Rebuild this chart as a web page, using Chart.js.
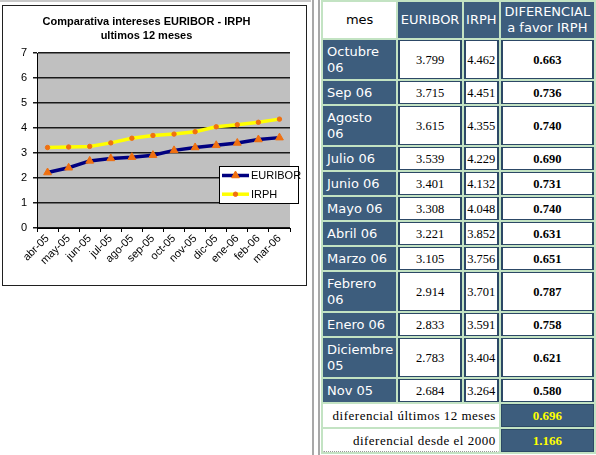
<!DOCTYPE html>
<html>
<head>
<meta charset="utf-8">
<script src="https://cdn.jsdelivr.net/npm/chart.js@4/dist/chart.umd.min.js"></script>
<style>
  html, body { margin: 0; padding: 0; background: #fff; width: 596px; height: 455px; overflow: hidden; position: relative; }
  #topline { position: absolute; left: 0; top: 0; width: 311px; height: 2px; background: #c8c8c8; }
  #chartBox { position: absolute; left: 2px; top: 5px; width: 305px; height: 281px; border: 1px solid #202020; box-sizing: border-box; background: #fff; }
  #chartBox canvas { display: block; }
  .vline { position: absolute; top: 0; width: 2px; height: 455px; background: #a8a8a8; }
  #tabla { position: absolute; left: 321px; top: 0; border-collapse: separate; border-spacing: 2px; background: #c3e3c3; table-layout: fixed; }
  #tabla td, #tabla th { box-sizing: border-box; overflow: hidden; white-space: nowrap; }
  #tabla th { font: normal 13px/16px "DejaVu Sans", sans-serif; color: #fff; background: #3d5d7d; padding: 1px; border: 1px solid #3d5d7d; text-align: center; }
  #tabla th.mes { background: #fff; color: #000; border-color: #fff; }
  #tabla td.m { font: 13px/16px "DejaVu Sans", sans-serif; color: #fff; background: #3d5d7d; padding: 3px 2px 2px 3px; border: 1px solid #3d5d7d; text-align: left; }
  #tabla td.n { font: 12.5px/16px "Liberation Serif", serif; background: #fff; color: #000; text-align: center; padding: 3px 1px 2px; border: 1px solid #2c4866; border-left-width: 2px; border-right-width: 2px; }
  #tabla td.d { font-weight: bold; }
  #tabla td.lbl { font: 13px/16px "Liberation Serif", serif; letter-spacing: 0.5px; text-align: right; background: #fff; border: 1px solid #fff; padding: 3px 2px 2px; }
  #tabla td.tot { font: bold 13px/16px "Liberation Serif", serif; color: #ffff00; background: #3d5d7d; text-align: center; border: 1px solid #2c4866; padding: 3px 1px 2px; }
  #tabla tr:last-child td.lbl { border-bottom: 1px dotted #999; }
</style>
</head>
<body>
<div id="topline"></div>
<div id="chartBox"><canvas id="grafico" width="303" height="279"></canvas></div>
<div class="vline" style="left:312px"></div>
<div class="vline" style="left:318px"></div>
<table id="tabla">
  <colgroup><col style="width:70px"><col style="width:64px"><col style="width:35px"><col style="width:95px"></colgroup>
  <thead></thead>
  <tbody></tbody>
</table>

<script>
// grafico: abr-05 .. mar-06
const mesesGrafico = ["abr-05", "may-05", "jun-05", "jul-05", "ago-05", "sep-05", "oct-05", "nov-05", "dic-05", "ene-06", "feb-06", "mar-06"];
const serieEuribor = [2.22, 2.41, 2.684, 2.783, 2.833, 2.914, 3.105, 3.221, 3.308, 3.401, 3.539, 3.615];
const serieIrph = [3.22, 3.24, 3.264, 3.404, 3.591, 3.701, 3.756, 3.852, 4.048, 4.132, 4.229, 4.355];
const tituloGrafico = ["Comparativa intereses EURIBOR - IRPH", "ultimos 12 meses"];

// tabla
const cabeceras = [["mes"], ["EURIBOR"], ["IRPH"], ["DIFERENCIAL", "a favor IRPH"]];
const mesesTabla = [["Octubre", "06"], ["Sep 06"], ["Agosto", "06"], ["Julio 06"], ["Junio 06"], ["Mayo 06"], ["Abril 06"], ["Marzo 06"], ["Febrero", "06"], ["Enero 06"], ["Diciembre", "05"], ["Nov 05"]];
const euriborTabla = [3.799, 3.715, 3.615, 3.539, 3.401, 3.308, 3.221, 3.105, 2.914, 2.833, 2.783, 2.684];
const irphTabla = [4.462, 4.451, 4.355, 4.229, 4.132, 4.048, 3.852, 3.756, 3.701, 3.591, 3.404, 3.264];
const diferencialTabla = [0.663, 0.736, 0.740, 0.690, 0.731, 0.740, 0.631, 0.651, 0.787, 0.758, 0.621, 0.580];
const resumenTextos = ["diferencial últimos 12 meses", "diferencial desde el 2000"];
const resumenValores = [0.696, 1.166];

// --- tabla html ---
const thead = document.querySelector("#tabla thead");
let h = "<tr>";
cabeceras.forEach((c, i) => {
  h += '<th' + (i === 0 ? ' class="mes"' : '') + '>' + c.join("<br>") + '</th>';
});
thead.innerHTML = h + "</tr>";

const tbody = document.querySelector("#tabla tbody");
let b = "";
mesesTabla.forEach((m, i) => {
  b += "<tr>";
  b += '<td class="m">' + m.join("<br>") + "</td>";
  b += '<td class="n">' + euriborTabla[i].toFixed(3) + "</td>";
  b += '<td class="n">' + irphTabla[i].toFixed(3) + "</td>";
  b += '<td class="n d">' + diferencialTabla[i].toFixed(3) + "</td>";
  b += "</tr>";
});
resumenTextos.forEach((t, i) => {
  b += '<tr><td class="lbl" colspan="3">' + t + '</td><td class="tot">' + resumenValores[i].toFixed(3) + "</td></tr>";
});
tbody.innerHTML = b;

// --- grafico ---
const fondoPlot = {
  id: "fondoPlot",
  beforeDraw(chart) {
    const { ctx, chartArea: a } = chart;
    ctx.save();
    ctx.fillStyle = "#c0c0c0";
    ctx.fillRect(a.left, a.top, a.right - a.left, a.bottom - a.top);
    ctx.restore();
  }
};

// leyenda tipo excel dentro del grafico
const leyendaCaja = {
  id: "leyendaCaja",
  afterDraw(chart) {
    const ctx = chart.ctx;
    const x = 216, y = 160, w = 79, hgt = 37;
    ctx.save();
    ctx.fillStyle = "#fff";
    ctx.fillRect(x, y, w, hgt);
    ctx.strokeStyle = "#000";
    ctx.lineWidth = 1;
    ctx.strokeRect(x + 0.5, y + 0.5, w, hgt);
    chart.data.datasets.forEach((ds, i) => {
      const cy = y + 9.5 + i * 18.7;
      ctx.strokeStyle = ds.borderColor;
      ctx.lineWidth = ds.borderWidth;
      ctx.beginPath();
      ctx.moveTo(x + 3, cy);
      ctx.lineTo(x + 30, cy);
      ctx.stroke();
      ctx.fillStyle = ds.pointBackgroundColor;
      ctx.strokeStyle = ds.pointBorderColor;
      ctx.lineWidth = 1;
      Chart.helpers.drawPoint(ctx, { pointStyle: ds.pointStyle, radius: ds.pointRadius, borderWidth: 1, rotation: 0 }, x + 16.5, cy);
      ctx.fillStyle = "#000";
      ctx.font = "11px 'Liberation Sans'";
      ctx.textBaseline = "middle";
      ctx.textAlign = "left";
      ctx.fillText(ds.label, x + 32, cy + 0.5);
    });
    ctx.restore();
  }
};

new Chart(document.getElementById("grafico"), {
  type: "line",
  data: {
    labels: mesesGrafico,
    datasets: [
      {
        label: "EURIBOR",
        data: serieEuribor,
        borderColor: "#000080",
        borderWidth: 3.5,
        tension: 0,
        pointStyle: "triangle",
        pointRadius: 4.5,
        pointBackgroundColor: "#f07010",
        pointBorderColor: "#f07010",
        pointBorderWidth: 1,
      },
      {
        label: "IRPH",
        data: serieIrph,
        borderColor: "#ffff00",
        borderWidth: 3.5,
        tension: 0,
        pointStyle: "circle",
        pointRadius: 2.2,
        pointBackgroundColor: "#f07010",
        pointBorderColor: "#f07010",
        pointBorderWidth: 1,
      },
    ],
  },
  options: {
    responsive: false,
    animation: false,
    devicePixelRatio: 1,
    layout: { padding: { left: 0, right: 16, top: 0, bottom: 0 } },
    plugins: {
      legend: { display: false },
      tooltip: { enabled: false },
      title: {
        display: true,
        text: tituloGrafico,
        color: "#000",
        font: { family: "Liberation Sans", size: 11, weight: "bold", lineHeight: 1.25 },
        padding: { top: 9, bottom: 10.5 },
      },
    },
    scales: {
      x: {
        offset: true,
        grid: { offset: true, drawOnChartArea: false, drawTicks: true, tickLength: 4, color: "#000" },
        border: { color: "#000", width: 1 },
        ticks: {
          autoSkip: false,
          minRotation: 45,
          maxRotation: 45,
          color: "#000",
          padding: 0,
          font: { family: "Liberation Sans", size: 11 },
        },
        afterFit: (s) => { s.height = 57; },
      },
      y: {
        min: 0,
        max: 7,
        ticks: { stepSize: 1, color: "#000", padding: 6, font: { family: "Liberation Sans", size: 11 } },
        grid: { color: "#1a1a1a", lineWidth: 1.5, tickLength: 4 },
        border: { color: "#000", width: 1 },
        afterFit: (s) => { s.width = 34; },
      },
    },
  },
  plugins: [fondoPlot, leyendaCaja],
});
</script>
</body>
</html>
